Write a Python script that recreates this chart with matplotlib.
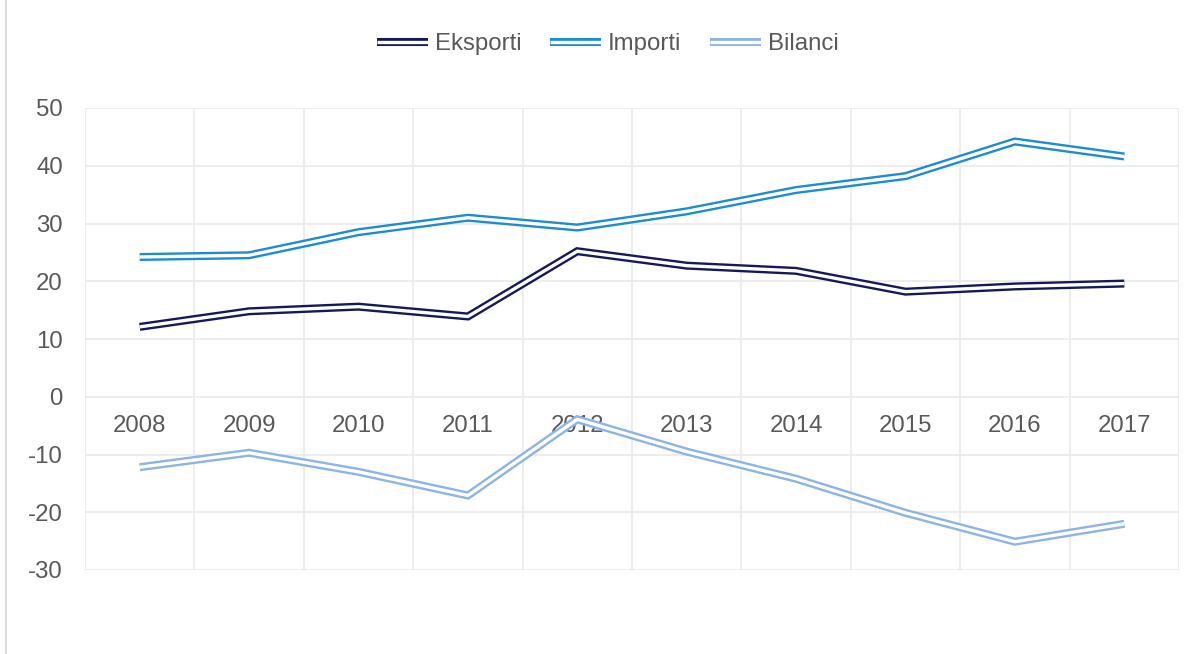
import matplotlib
matplotlib.use("Agg")
import matplotlib.pyplot as plt
import matplotlib.patheffects as pe
from matplotlib.lines import Line2D

years = ["2008", "2009", "2010", "2011", "2012", "2013", "2014", "2015", "2016", "2017"]
eksporti = [12.1, 14.8, 15.6, 13.9, 25.2, 22.7, 21.8, 18.2, 19.1, 19.6]
importi = [24.2, 24.5, 28.5, 31.0, 29.3, 32.1, 35.8, 38.2, 44.2, 41.6]
bilanci = [-12.2, -9.7, -13.0, -17.1, -3.9, -9.5, -14.2, -20.1, -25.1, -22.0]
y_ticks = [-30, -20, -10, 0, 10, 20, 30, 40, 50]

series = [("Eksporti", eksporti, "#15195a"),
          ("Importi", importi, "#1e8ccf"),
          ("Bilanci", bilanci, "#8db4e2")]

plt.rcParams['font.family'] = ['Liberation Sans', 'DejaVu Sans']
text_color = "#595959"
grid_color = "#ececec"
fs = 17.3

W, H = 1198, 654
fig = plt.figure(figsize=(W / 100, H / 100), dpi=100)
ax = fig.add_axes([85 / W, 1 - 570 / H, (1179 - 85) / W, (570 - 108) / H])

x = list(range(len(years)))
for name, vals, col in series:
    ax.plot(x, vals, color="white", lw=2.4, label=name, solid_joinstyle="miter",
            solid_capstyle="butt",
            path_effects=[pe.Stroke(linewidth=5.8, foreground=col, joinstyle="miter", capstyle="butt"), pe.Normal()],
            zorder=3)

ax.set_xlim(-0.5, len(years) - 0.5)
ax.set_ylim(-30, 50)
ax.set_yticks(y_ticks)
ax.set_yticklabels([str(v) for v in y_ticks])
ax.set_xticks(x)
ax.set_xticklabels(years)
ax.set_xticks([i - 0.5 for i in range(len(years) + 1)], minor=True)

for s in ax.spines.values():
    s.set_visible(False)
ax.spines['bottom'].set_position(('data', 0))

ax.grid(True, axis='y', which='major', color=grid_color, lw=1.3, zorder=0)
ax.grid(True, axis='x', which='minor', color=grid_color, lw=1.3, zorder=0)
ax.grid(False, axis='x', which='major')
ax.set_axisbelow(True)

ax.tick_params(axis='both', which='both', length=0)
ax.tick_params(axis='y', pad=16, labelsize=fs, labelcolor=text_color)
ax.tick_params(axis='x', pad=13.5, labelsize=fs, labelcolor=text_color)

leg = fig.legend(loc='center', bbox_to_anchor=(608 / W, 1 - 44 / H), ncol=3, frameon=False,
                 fontsize=fs, handlelength=2.1, handletextpad=0.3, columnspacing=1.2,
                 labelcolor=text_color)

# chart area left border
fig.add_artist(Line2D([6 / W, 6 / W], [0, 1], transform=fig.transFigure, color="#d9d9d9", lw=1.3))

fig.savefig("out.png", dpi=100)
